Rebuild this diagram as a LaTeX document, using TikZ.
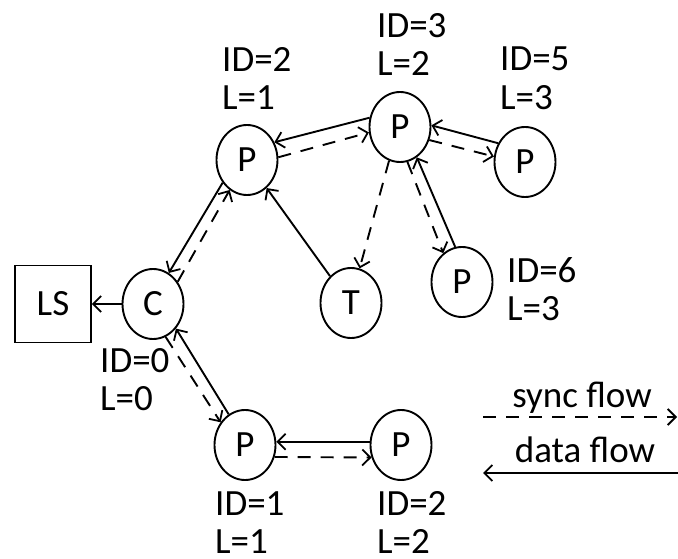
\documentclass[tikz,border=0pt]{standalone}
\usepackage{fontspec}
\setmainfont{Carlito}
\usetikzlibrary{arrows.meta,shapes.geometric}
\begin{document}
\begin{tikzpicture}[x=1pt,y=-1pt,
  every node/.style={font=\fontsize{37}{38.5}\selectfont},
  pnode/.style={ellipse,draw,line width=1.9pt,minimum width=61pt,minimum height=70pt,inner sep=0pt},
  lsbox/.style={rectangle,draw,line width=1.9pt,minimum width=76pt,minimum height=77pt,inner sep=0pt},
  lbl/.style={anchor=north west,align=left,inner sep=0pt},
  flow/.style={line width=1.9pt,-{Straight Barb[length=8pt,width=16pt,line width=1.8pt]}},
  data/.style={flow},
  sync/.style={flow,dash pattern=on 13pt off 10pt},
]
\useasboundingbox (0,0) rectangle (678,559);
\fill[white] (0,0) rectangle (678,559);
% nodes
\node[lsbox] (LS) at (53,304) {LS};
\node[pnode] (C)  at (153,304) {C};
\node[pnode] (P2) at (247,160) {P};
\node[pnode] (P3) at (400,127) {P};
\node[pnode] (P5) at (525,162) {P};
\node[pnode] (T)  at (351,303) {T};
\node[pnode] (P6) at (462,282) {P};
\node[pnode] (P1) at (245,445) {P};
\node[pnode] (Pb) at (401,445) {P};
% labels
\node[lbl] (lP3) at (377,13) {ID=3\\L=2};
\node[lbl] (lP2) at (222,47) {ID=2\\L=1};
\node[lbl] (lP5) at (500,47) {ID=5\\L=3};
\node[lbl] (lP6) at (507,257) {ID=6\\L=3};
\node[lbl] (lC)  at (100,348) {ID=0\\L=0};
\node[lbl] (lP1) at (215,491) {ID=1\\L=1};
\node[lbl] (lPb) at (377,491) {ID=2\\L=2};
% connectors
\draw[data] (P3.163) -- (P2.33);
\draw[sync] (P2.5) -- (P3.190);
\draw[data] (P5.145) -- (P3.3);
\draw[sync] (P3.-24) -- (P5.170);
\draw[sync] (P3.252) -- (T.76);
\draw[data] (T.128) -- (P2.-55);
\draw[sync] (P3.-78) -- (P6.123);
\draw[data] (P6.101) -- (P3.-61);
\draw[data] (P2.223) -- (C.63);
\draw[sync] (C.42) -- (P2.240);
\draw[data] (C.west) -- (LS.east);
\draw[data] (P1.118) -- (C.-47);
\draw[sync] (C.-69) -- (P1.137);
\draw[data] (Pb.174) -- (P1.6);
\draw[sync] (P1.-22) -- (Pb.203);
% legend
\node[anchor=base,inner sep=0pt] (lsync) at (582,407) {sync flow};
\node[anchor=base,inner sep=0pt] (ldata) at (585,462) {data flow};
\coordinate (s1) at (483,417);
\coordinate (s2) at (677,417);
\coordinate (d1) at (678,473);
\coordinate (d2) at (483,473);
\draw[sync] (s1) -- (s2);
\draw[data] (d1) -- (d2);
\end{tikzpicture}
\end{document}
